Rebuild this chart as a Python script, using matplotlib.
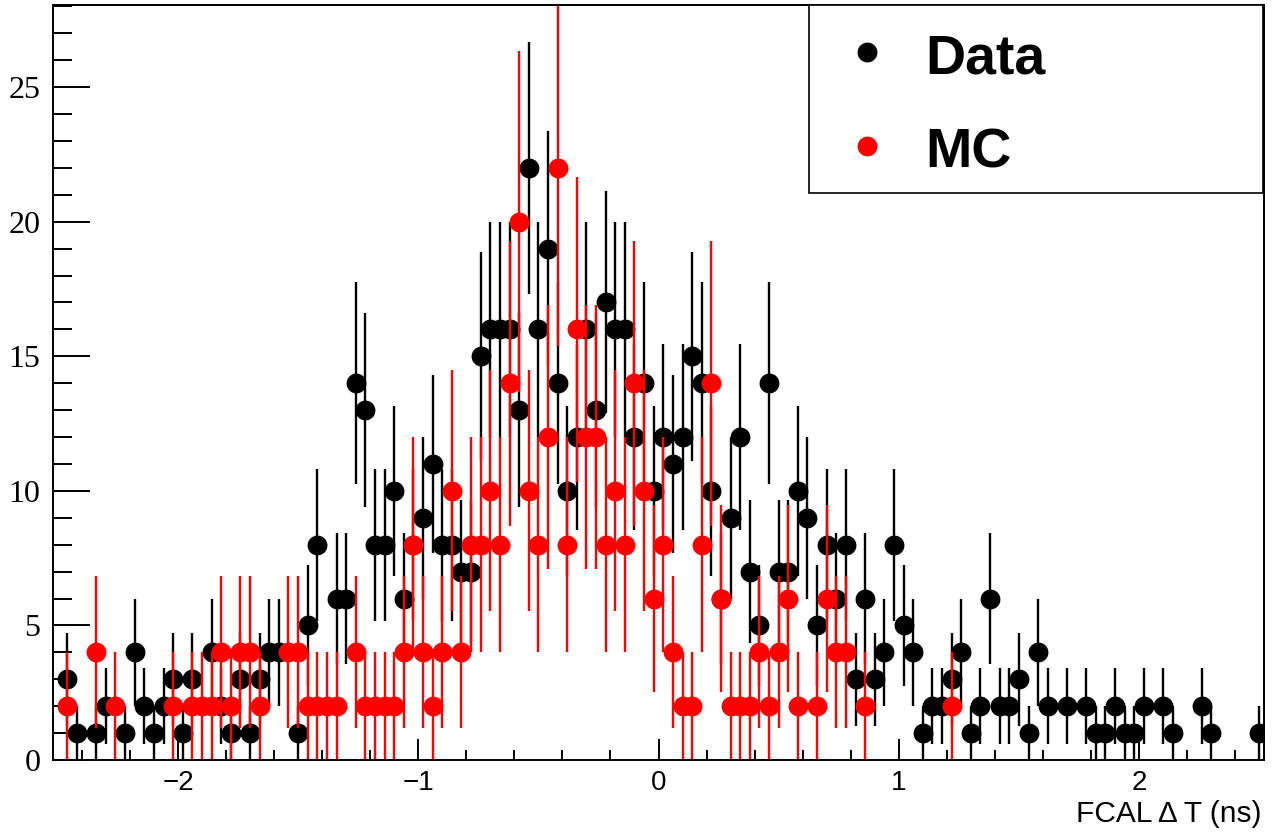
import numpy as np
import matplotlib
matplotlib.use('Agg')
import matplotlib.pyplot as plt
from matplotlib.lines import Line2D
from matplotlib.patches import Rectangle
from matplotlib.ticker import MultipleLocator

# ---- data ----
bin_lo, bin_hi, n_bins = -2.52, 2.52, 126

data_counts = [
    0, 3, 1, 0, 1, 2, 0, 1, 4, 2,      # 0-9
    1, 2, 3, 1, 3, 0, 4, 2, 1, 3,      # 10-19
    1, 3, 4, 4, 0, 1, 5, 8, 0, 6,      # 20-29
    6, 14, 13, 8, 8, 10, 6, 8, 9, 11,  # 30-39
    8, 8, 7, 7, 15, 16, 16, 16, 13, 22,  # 40-49
    16, 19, 14, 10, 12, 16, 13, 17, 16, 16,  # 50-59
    12, 14, 10, 12, 11, 12, 15, 14, 10, 6,   # 60-69
    9, 12, 7, 5, 14, 7, 7, 10, 9, 5,   # 70-79
    8, 6, 8, 3, 6, 3, 4, 8, 5, 4,      # 80-89
    1, 2, 2, 3, 4, 1, 2, 6, 2, 2,      # 90-99
    3, 1, 4, 2, 0, 2, 0, 2, 1, 1,      # 100-109
    2, 1, 1, 2, 0, 2, 1, 0, 0, 2,      # 110-119
    1, 0, 0, 0, 0, 1,                  # 120-125
]

mc_counts = [
    0, 2, 0, 0, 4, 0, 2, 0, 0, 0,      # 0-9
    0, 0, 2, 0, 2, 2, 2, 4, 2, 4,      # 10-19
    4, 2, 0, 0, 4, 4, 2, 2, 2, 2,      # 20-29
    0, 4, 2, 2, 2, 2, 4, 8, 4, 2,      # 30-39
    4, 10, 4, 8, 8, 10, 8, 14, 20, 10,  # 40-49
    8, 12, 22, 8, 16, 12, 12, 8, 10, 8,  # 50-59
    14, 10, 6, 8, 4, 2, 2, 8, 14, 6,   # 60-69
    2, 2, 2, 4, 2, 4, 6, 2, 0, 2,      # 70-79
    6, 4, 4, 0, 2, 0, 0, 0, 0, 0,      # 80-89
    0, 0, 0, 2, 0, 0, 0, 0, 0, 0,      # 90-99
    0, 0, 0, 0, 0, 0, 0, 0, 0, 0,      # 100-109
    0, 0, 0, 0, 0, 0, 0, 0, 0, 0,      # 110-119
    0, 0, 0, 0, 0, 0,                  # 120-125
]

x_major_ticks = [-2, -1, 0, 1, 2]
x_tick_labels = ['\u22122', '\u22121', '0', '1', '2']
y_major_ticks = [0, 5, 10, 15, 20, 25]
y_tick_labels = ['0', '5', '10', '15', '20', '25']
legend_labels = ['Data', 'MC']
x_title = 'FCAL \u0394 T (ns)'

# ---- figure ----
W, H = 1272, 832
fig = plt.figure(figsize=(W / 100, H / 100), dpi=100)
fig.patch.set_facecolor('white')

L, R, T, B = 53, 1264, 5, 760
ax = fig.add_axes([L / W, 1 - B / H, (R - L) / W, (B - T) / H])

edges = np.linspace(bin_lo, bin_hi, n_bins + 1)
centers = 0.5 * (edges[:-1] + edges[1:])
d = np.array(data_counts, dtype=float)
m = np.array(mc_counts, dtype=float)
md = d > 0
mm = m > 0

ms = 14.3
ax.errorbar(centers[md], d[md], yerr=np.sqrt(d[md]), fmt='o', color='black',
            ms=ms, mew=0, elinewidth=1.7, capsize=0, zorder=2)
ax.errorbar(centers[mm], m[mm], yerr=np.sqrt(2 * m[mm]), fmt='o', color='#ff0000',
            ms=ms, mew=0, elinewidth=1.7, capsize=0, zorder=3)

ax.set_xlim(bin_lo, bin_hi)
ax.set_ylim(0, 28.05)

for s in ax.spines.values():
    s.set_linewidth(1.4)
    s.set_zorder(5)

ax.set_xticks(x_major_ticks)
ax.set_xticklabels(x_tick_labels, fontfamily='Liberation Sans', fontsize=20)
ax.xaxis.set_minor_locator(MultipleLocator(0.2))
ax.set_yticks(y_major_ticks)
ax.set_yticklabels(y_tick_labels, fontfamily='Liberation Serif', fontsize=23)
ax.yaxis.set_minor_locator(MultipleLocator(1))

ax.tick_params(axis='x', which='major', direction='in', length=15, width=1.4, pad=7,
               top=False, bottom=True)
ax.tick_params(axis='x', which='minor', direction='in', length=7.2, width=1.4,
               top=False, bottom=True)
ax.tick_params(axis='y', which='major', direction='in', length=26.4, width=1.4, pad=9,
               left=True, right=False)
ax.tick_params(axis='y', which='minor', direction='in', length=13.7, width=1.4,
               left=True, right=False)

# x axis title
fig.text(1262 / W, 1 - 822 / H, x_title, ha='right', va='baseline',
         fontfamily='Liberation Sans', fontsize=21.5)

# legend box
lx0, ly0, lx1, ly1 = 809, 5, 1263, 193
fig.add_artist(Rectangle((lx0 / W, 1 - ly1 / H), (lx1 - lx0) / W, (ly1 - ly0) / H,
                         transform=fig.transFigure, facecolor='white',
                         edgecolor='black', lw=1.2, zorder=10))
leg_colors = ['black', '#ff0000']
leg_marker_y = [52, 146]
leg_text_base = [74, 167]
for lab, col, my, ty in zip(legend_labels, leg_colors, leg_marker_y, leg_text_base):
    fig.add_artist(Line2D([867 / W], [1 - my / H], marker='o', ms=ms, mew=0,
                          color=col, linestyle='none', transform=fig.transFigure,
                          zorder=11))
    fig.text(925 / W, 1 - ty / H, lab, ha='left', va='baseline',
             fontfamily='Liberation Sans', fontweight='bold', fontsize=40, zorder=11)

fig.savefig('out.png', dpi=100)
